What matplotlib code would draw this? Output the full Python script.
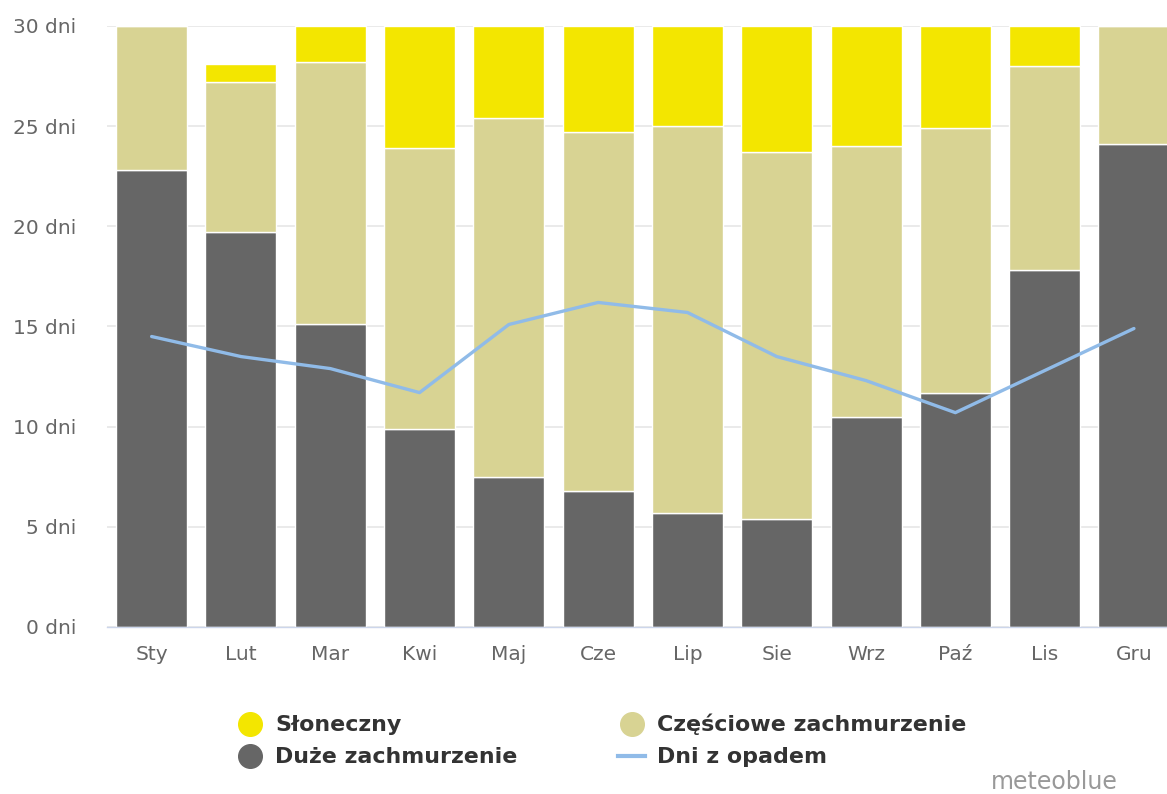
import matplotlib
matplotlib.use("Agg")
import matplotlib.pyplot as plt
from matplotlib.lines import Line2D
import numpy as np

months = ["Sty", "Lut", "Mar", "Kwi", "Maj", "Cze", "Lip", "Sie", "Wrz", "Paź", "Lis", "Gru"]
overcast = [22.8, 19.7, 15.1, 9.9, 7.5, 6.8, 5.7, 5.4, 10.5, 11.7, 17.8, 24.1]
partly = [7.2, 7.5, 13.1, 14.0, 17.9, 17.9, 19.3, 18.3, 13.5, 13.2, 10.2, 5.9]
sunny = [0.0, 0.9, 1.8, 6.1, 4.6, 5.3, 5.0, 6.3, 6.0, 5.1, 2.0, 0.0]
precip_days = [14.5, 13.5, 12.9, 11.7, 15.1, 16.2, 15.7, 13.5, 12.3, 10.7, 12.8, 14.9]
yticks = [0, 5, 10, 15, 20, 25, 30]

c_sunny = "#f3e600"
c_partly = "#d8d393"
c_over = "#666666"
c_line = "#90bbe8"

plt.rcParams['font.family'] = ['DejaVu Sans']
fig = plt.figure(figsize=(11.67, 7.94), dpi=100)
ax = fig.add_axes([107/1167, 167/794, 1071.6/1167, 601/794])

x = np.arange(len(months))
w = 0.795
ov = np.array(overcast); pa = np.array(partly); su = np.array(sunny)
ax.bar(x, ov, width=w, color=c_over, edgecolor="white", linewidth=1, zorder=2)
ax.bar(x, pa, width=w, bottom=ov, color=c_partly, edgecolor="white", linewidth=1, zorder=2)
ax.bar(x, su, width=w, bottom=ov + pa, color=c_sunny, edgecolor="white", linewidth=1, zorder=2)
ax.plot(x, precip_days, color=c_line, linewidth=2.4, zorder=3, solid_capstyle="round")

ax.set_xlim(-0.5, len(months) - 0.5)
ax.set_ylim(0, 30)
ax.set_yticks(yticks)
ax.set_yticklabels([f"{v} dni" for v in yticks])
ax.set_xticks(x)
ax.set_xticklabels(months)
ax.tick_params(axis="y", length=0, pad=22, labelsize=14.5, labelcolor="#666666")
ax.tick_params(axis="x", length=0, pad=13, labelsize=14.5, labelcolor="#666666")
for s in ["top", "right", "left"]:
    ax.spines[s].set_visible(False)
ax.spines["bottom"].set_color("#ccd6eb")
ax.spines["bottom"].set_linewidth(1)
ax.spines["bottom"].set_zorder(4)
ax.yaxis.grid(True, color="#e6e6e6", linewidth=1.2, zorder=0)
ax.set_axisbelow(True)

handles = [
    Line2D([], [], marker="o", linestyle="none", markersize=17, markerfacecolor=c_sunny, markeredgecolor=c_sunny),
    Line2D([], [], marker="o", linestyle="none", markersize=17, markerfacecolor=c_over, markeredgecolor=c_over),
    Line2D([], [], marker="o", linestyle="none", markersize=17, markerfacecolor=c_partly, markeredgecolor=c_partly),
    Line2D([], [], color=c_line, linewidth=3),
]
labels = ["Słoneczny", "Duże zachmurzenie", "Częściowe zachmurzenie", "Dni z opadem"]
leg = fig.legend(handles, labels, ncol=2, loc="upper left", bbox_to_anchor=(228/1167, 1 - 705/794),
                 frameon=False, prop={"weight": "bold", "size": 15.9}, handlelength=1.2,
                 handletextpad=0.55, columnspacing=4.55, labelspacing=0.55, borderaxespad=0)
for t in leg.get_texts():
    t.set_color("#333333")

fig.text(1118/1167, 1 - 782/794, "meteoblue", ha="right", va="center", fontsize=17, color="#999999")

fig.savefig("out.png", dpi=100)
